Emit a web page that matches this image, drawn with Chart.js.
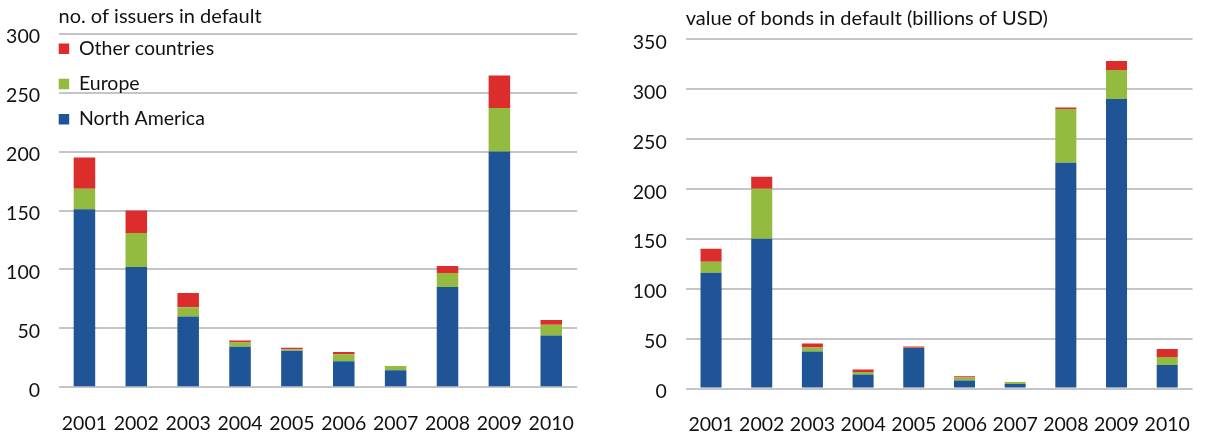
<!DOCTYPE html>
<html><head><meta charset="utf-8">
<script src="https://cdn.jsdelivr.net/npm/chart.js@4"></script>
<style>
html,body{margin:0;padding:0;background:#fff;}
#wrap{position:relative;width:1216px;height:435px;overflow:hidden;}
#c1box{position:absolute;left:0;top:0;width:600px;height:435px;}
#c2box{position:absolute;left:600px;top:0;width:616px;height:435px;}
</style></head><body>
<div id="wrap">
  <div id="c1box"><canvas id="c1"></canvas></div>
  <div id="c2box"><canvas id="c2"></canvas></div>
</div>
<script>
// ---- data ----
const years = ['2001','2002','2003','2004','2005','2006','2007','2008','2009','2010'];
const seriesNames = ['North America','Europe','Other countries'];
// number of issuers in default
const issuersNorthAmerica = [151, 102, 60, 34.5, 31, 22, 14.5, 85, 200, 44];
const issuersEurope       = [17.5, 29, 8, 3.5, 1.2, 6, 3.5, 12, 37, 9];
const issuersOther        = [26.5, 19, 12, 1.7, 1.4, 2, 0, 6, 27.5, 4];
// value of bonds in default (billions of USD)
const valueNorthAmerica = [116, 150, 37, 14, 40.5, 8, 4.5, 226, 290, 23.5];
const valueEurope       = [11, 50, 4, 2.5, 0.3, 3, 2, 54, 29, 8];
const valueOther        = [13, 12, 4, 2.5, 1.2, 1.3, 0, 1.5, 9, 8];
const leftTicks  = [0, 50, 100, 150, 200, 250, 300];
const rightTicks = [0, 50, 100, 150, 200, 250, 300, 350];
const titles = ['no. of issuers in default', 'value of bonds in default (billions of USD)'];

const colors = ['#1f5597', '#93bb3f', '#dc2c2c'];
const FONT = 'Lato';
const FS = 19.5;
const TFS = 20;
const TXT = '#111111';
const GRID = '#c4c5c9';

function datasets(a, b, c) {
  return [a, b, c].map((d, i) => ({
    label: seriesNames[i],
    data: d,
    backgroundColor: colors[i],
    borderWidth: 0,
    categoryPercentage: 1,
    barPercentage: 0.415
  }));
}

const legendShift = {
  id: 'legendShift',
  afterLayout(chart) {
    const lg = chart.legend;
    if (!lg || !lg.options.display) return;
    const p = lg.options.labels.padding;
    const f = lg.options.labels.font.size;
    lg.left = chart.chartArea.left + 0.2 - p;
    lg.top = 48.8 - f / 2 - p;
  }
};

function makeChart(id, ds, ticks, cfg) {
  return new Chart(document.getElementById(id), {
    type: 'bar',
    data: { labels: years, datasets: ds },
    plugins: [legendShift],
    options: {
      responsive: true,
      maintainAspectRatio: false,
      animation: false,
      events: [],
      layout: { padding: { left: 0, top: 0, right: cfg.padRight, bottom: 0 } },
      plugins: {
        tooltip: { enabled: false },
        title: {
          display: true,
          text: cfg.title,
          align: 'start',
          fullSize: false,
          color: TXT,
          font: { family: FONT, size: TFS, weight: 'normal', lineHeight: 1.2 },
          padding: { top: cfg.titleTop, bottom: cfg.titleBottom }
        },
        legend: {
          display: cfg.legend,
          position: 'chartArea',
          align: 'start',
          reverse: true,
          labels: {
            boxWidth: 10.5,
            boxHeight: 10.5,
            padding: 15.7,
            color: TXT,
            font: { family: FONT, size: FS }
          }
        }
      },
      scales: {
        x: {
          stacked: true,
          offset: true,
          grid: { display: false, drawTicks: false },
          border: { display: false },
          ticks: { color: TXT, font: { family: FONT, size: FS }, padding: 25, maxRotation: 0, autoSkip: false },
          afterFit(scale) { scale.height = cfg.xHeight; }
        },
        y: {
          stacked: true,
          min: 0,
          max: ticks[ticks.length - 1],
          afterBuildTicks(scale) { scale.ticks = ticks.map(v => ({ value: v })); },
          grid: { color: GRID, lineWidth: 2, drawTicks: false },
          border: { display: false },
          ticks: { color: TXT, font: { family: FONT, size: FS }, padding: cfg.yPad, labelOffset: 3.5 },
          afterFit(scale) { scale.width = cfg.yWidth; }
        }
      }
    }
  });
}

makeChart('c1', datasets(issuersNorthAmerica, issuersEurope, issuersOther), leftTicks, {
  title: titles[0], legend: true, padRight: 10, titleTop: 4.7, titleBottom: 5.0,
  xHeight: 47.7, yWidth: 58.5, yPad: 18.5
});
makeChart('c2', datasets(valueNorthAmerica, valueEurope, valueOther), rightTicks, {
  title: titles[1], legend: false, padRight: 2, titleTop: 6.3, titleBottom: 8.7,
  xHeight: 46.5, yWidth: 85.7, yPad: 19
});
</script>
</body></html>
